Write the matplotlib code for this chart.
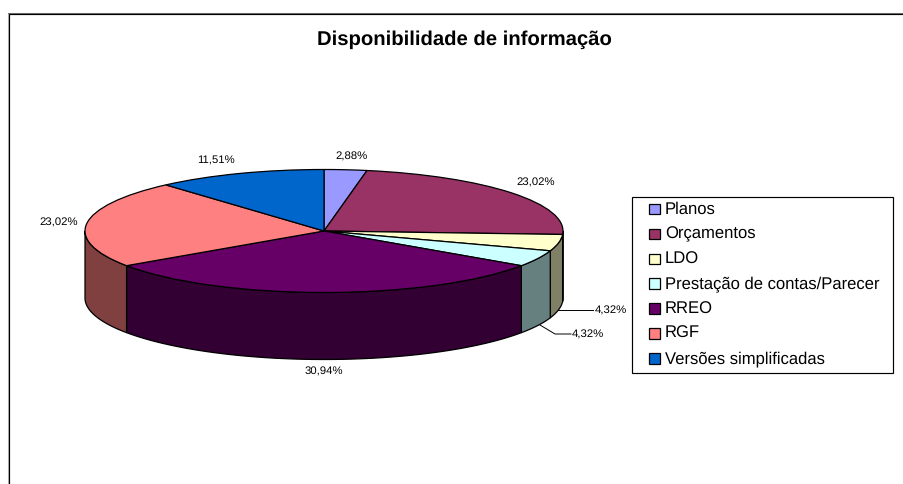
import matplotlib
matplotlib.use('Agg')
import matplotlib.pyplot as plt
import numpy as np
from matplotlib.legend_handler import HandlerPatch
from matplotlib.patches import Rectangle

plt.rcParams['font.family'] = ['Liberation Sans', 'DejaVu Sans']
plt.rcParams['text.hinting'] = 'none'

categories = ['Planos', 'Orçamentos', 'LDO', 'Prestação de contas/Parecer', 'RREO', 'RGF', 'Versões simplificadas']
values = [2.88, 23.02, 4.32, 4.32, 30.94, 23.02, 11.51]
value_labels = ['2,88%', '23,02%', '4,32%', '4,32%', '30,94%', '23,02%', '11,51%']
colors = ['#9999FF', '#993366', '#FFFFCC', '#CCFFFF', '#660066', '#FF8080', '#0066CC']
wall_colors = ['#4D4D80', '#4D1A33', '#808066', '#668080', '#330033', '#804040', '#003366']

W, H = 904, 484
cx, cy = 324, 231
rx, ry = 239, 61.5
depth = 67 / ry

fig = plt.figure(figsize=(W / 100, H / 100), dpi=100)

# frame and legend box behind everything, pixel coordinates
bg = fig.add_axes([0, 0, 1, 1])
bg.set_xlim(0, W)
bg.set_ylim(H, 0)
bg.axis('off')
bg.plot([8.5, 8.5], [H, 12.5], color='#b8b8b8', lw=0.75)
bg.plot([8.5, W], [12.5, 12.5], color='#707070', lw=0.75)
bg.plot([9.5, 9.5, W], [H, 13.5, 13.5], color='black', lw=0.85, solid_joinstyle='miter')
bg.add_patch(Rectangle((632.5, 196.5), 261, 176, facecolor='white', edgecolor='black', linewidth=0.85))

# pie axes: one data unit is rx wide and ry high, so the circle turns into the ellipse
ax = fig.add_axes([0, 0, 1, 1])
ax.patch.set_alpha(0)
wedges, _ = ax.pie(values, colors=colors, startangle=90, counterclock=False, radius=1,
                   wedgeprops={'edgecolor': 'black', 'linewidth': 0.9, 'zorder': 5})
ax.set_aspect('auto')
ax.set_xlim(-cx / rx, (W - cx) / rx)
ax.set_ylim((cy - H) / ry, cy / ry)
ax.axis('off')

# side wall, only the front half of the rim shows
edges = np.cumsum([0] + values) / sum(values) * 360
for i in range(len(values)):
    a0 = max(edges[i], 90)
    a1 = min(edges[i + 1], 270)
    if a1 <= a0:
        continue
    t = np.radians(np.linspace(a0, a1, 60))
    x = np.sin(t)
    y = np.cos(t)
    ax.fill(np.r_[x, x[::-1]], np.r_[y, y[::-1] - depth], facecolor=wall_colors[i],
            edgecolor='black', linewidth=0.9, zorder=2)

# data labels
label_pos = [(352, 157), (536, 183), (610.5, 311), (588, 335), (324, 372), (59, 223), (215.5, 161)]
for lab, (px, py) in zip(value_labels, label_pos):
    bg.text(px, py, lab, fontsize=8.2, ha='center', va='center', color='black')

# leader lines for the two small slices
bg.plot([558, 593], [309.5, 309.5], color='black', lw=0.7)
bg.plot([540, 555, 571], [325, 334, 334], color='black', lw=0.7)

fig.text(464.5 / W, 1 - 40 / H, 'Disponibilidade de informação', fontsize=14.6, fontweight='bold',
         ha='center', va='center')


def square(legend, orig_handle, xdescent, ydescent, width, height, fontsize):
    return Rectangle((xdescent + width - height, ydescent), height, height)


leg = ax.legend(wedges, categories, loc='upper left', bbox_to_anchor=(645 / W, 1 - 201.5 / H),
                bbox_transform=fig.transFigure, fontsize=12, frameon=False, borderpad=0,
                borderaxespad=0, labelspacing=0.54, handlelength=0.9, handleheight=0.6,
                handletextpad=0.3, handler_map={type(wedges[0]): HandlerPatch(patch_func=square)})

fig.savefig('out.png', dpi=100)
